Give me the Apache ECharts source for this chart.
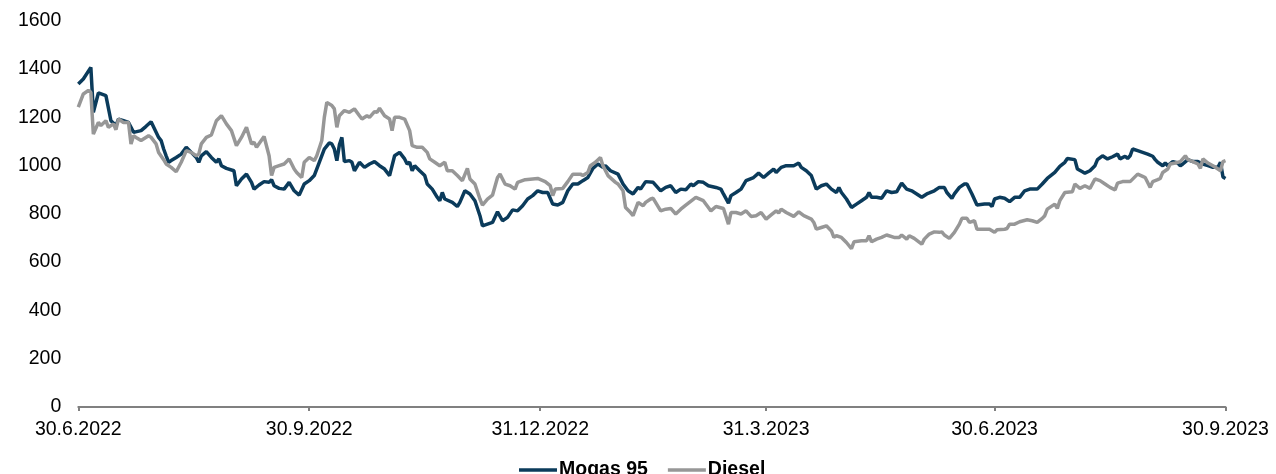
<!DOCTYPE html>
<html>
<head>
<meta charset="utf-8">
<script src="https://cdn.jsdelivr.net/npm/echarts@6/dist/echarts.min.js"></script>
<style>
html,body{margin:0;padding:0;background:#fff;}
#chart{width:1276px;height:474px;}
</style>
</head>
<body>
<div id="chart"></div>
<script>
// Days since 30.6.2022
const tickDays = [0, 92, 184, 274, 365, 457];
const tickLabels = ['30.6.2022', '30.9.2022', '31.12.2022', '31.3.2023', '30.6.2023', '30.9.2023'];
const yTicks = [0, 200, 400, 600, 800, 1000, 1200, 1400, 1600];
const seriesNames = ['Mogas 95', 'Diesel'];

const mogasDay = [0,2,5,6,8,11,13,15,16,18,20,21,22,25,27,29,32,33,34,35,36,37,39,41,43,45,47,48,49,51,53,55,56,57,59,62,63,65,67,69,70,72,74,76,77,78,80,82,84,86,88,90,92,94,96,98,100,101,102,103,104,105,106,108,109,110,112,114,116,118,120,122,124,126,128,130,131,132,133,134,136,138,139,141,143,144,145,146,149,151,152,154,156,158,160,161,163,165,167,169,171,173,175,177,179,181,183,185,187,189,191,193,195,197,199,201,203,205,207,209,210,212,215,217,219,221,223,224,226,229,232,234,236,238,240,242,244,245,247,249,251,254,256,257,259,260,262,264,266,269,271,273,275,277,278,280,282,285,287,288,290,292,294,296,298,300,302,303,304,306,308,310,312,314,315,316,318,320,322,324,326,327,328,330,332,334,336,338,339,341,343,345,346,348,349,351,353,354,356,358,361,363,364,365,367,369,371,373,375,377,379,382,384,386,389,391,393,394,397,398,400,401,403,405,406,408,410,412,414,415,417,418,419,420,422,424,426,428,429,430,432,433,434,436,438,439,440,442,444,446,448,450,452,454,455,456,457];
const mogasValue = [1337,1358,1406,1220,1300,1289,1185,1165,1192,1185,1178,1158,1137,1144,1162,1181,1116,1103,1068,1040,1013,1020,1033,1047,1075,1054,1033,1013,1040,1057,1033,1013,1027,999,988,978,916,944,964,930,902,919,933,930,941,916,905,902,930,895,877,923,937,958,1013,1068,1093,1089,1068,1020,1085,1116,1016,1020,1013,978,1013,992,1006,1016,999,985,958,1040,1054,1027,1006,1013,978,999,978,958,923,902,868,854,888,861,847,830,847,895,882,854,792,750,757,764,808,771,785,816,812,833,861,875,895,888,888,840,836,847,895,923,923,937,950,988,1006,992,999,978,964,923,895,882,909,902,933,930,895,909,916,888,902,899,923,916,933,930,916,909,902,882,844,875,888,902,937,950,968,950,968,985,971,992,999,999,1010,992,978,958,902,916,923,902,888,909,888,861,826,840,854,868,888,868,868,864,895,888,891,909,927,902,895,882,868,882,886,895,909,909,888,864,882,909,923,923,882,836,840,840,830,861,868,864,850,868,868,895,902,902,923,946,971,996,1013,1029,1024,985,974,968,978,999,1024,1040,1027,1036,1047,1027,1038,1029,1040,1068,1061,1054,1047,1038,1024,1013,999,1010,999,1016,1010,999,1006,1024,1016,1016,1006,999,992,992,1013,952,946];

const dieselDay = [0,2,4,5,6,8,9,11,12,14,15,16,18,20,21,22,23,25,28,29,31,32,34,35,37,39,41,43,45,47,48,49,51,53,55,57,59,61,63,65,67,69,70,71,74,76,77,78,80,82,84,86,87,89,90,92,94,95,97,98,99,101,102,103,104,106,108,110,112,113,115,116,118,119,120,122,124,125,126,128,130,132,133,135,137,139,140,142,144,146,147,149,151,153,155,156,158,160,161,163,165,167,168,170,172,174,175,178,181,183,186,188,189,190,193,195,197,200,201,203,204,206,208,209,211,214,215,217,218,220,221,223,225,226,228,229,232,234,236,238,240,242,246,249,251,252,254,257,259,260,262,264,266,268,270,272,274,276,278,279,280,282,285,287,289,292,293,294,296,298,300,301,302,304,306,308,309,312,314,315,316,318,320,322,325,327,328,330,331,333,336,337,339,341,343,344,345,347,349,351,352,354,355,357,358,361,363,365,366,369,370,371,373,375,378,380,382,384,385,386,389,390,391,393,396,397,399,401,403,405,407,409,411,413,414,416,419,422,424,425,427,428,430,431,432,434,435,437,439,441,442,444,446,447,448,450,452,454,455,456,457];
const dieselValue = [1241,1296,1310,1303,1130,1178,1165,1185,1158,1172,1148,1192,1178,1178,1089,1123,1116,1103,1123,1116,1089,1054,1024,1006,992,974,1013,1061,1054,1040,1047,1089,1116,1126,1185,1206,1172,1144,1082,1116,1158,1089,1096,1075,1120,1040,958,992,999,1006,1027,985,971,950,1013,1033,1020,1040,1103,1199,1261,1248,1234,1158,1206,1227,1220,1234,1206,1192,1206,1199,1223,1220,1237,1206,1192,1144,1199,1199,1192,1144,1082,1075,1075,1054,1027,1013,999,1013,978,978,958,937,988,944,923,861,836,861,877,950,964,923,916,902,930,941,944,946,933,916,875,902,905,933,964,964,958,971,999,1013,1033,999,958,930,923,895,826,805,792,847,833,847,861,864,812,819,822,799,819,836,868,854,826,812,830,822,757,805,805,799,812,789,792,805,778,795,812,803,819,805,789,808,792,778,764,736,743,750,729,702,709,702,681,656,684,688,688,709,684,695,702,712,702,702,712,695,709,698,674,695,716,725,723,725,712,698,723,757,781,781,764,771,736,736,736,723,734,736,739,757,757,767,775,771,764,781,792,819,840,822,854,888,891,923,905,916,905,944,937,923,909,899,927,933,933,964,955,950,909,933,941,946,971,985,1006,1010,1016,1040,1024,1016,1006,988,1027,1010,999,985,978,1016,1020];

function pairs(days, vals) { return days.map((d, i) => [d, vals[i]]); }

const chart = echarts.init(document.getElementById('chart'), null, {renderer: 'canvas'});
const FONT = '"Liberation Sans", Arial, sans-serif';
chart.setOption({
  animation: false,
  backgroundColor: '#ffffff',
  grid: {left: 78.3, right: 50.5, top: 20.5, bottom: 67, containLabel: false},
  legend: {
    data: seriesNames,
    left: 514,
    top: 455,
    itemWidth: 38,
    itemHeight: 3.5,
    itemGap: 20,
    icon: 'rect',
    textStyle: {fontFamily: FONT, fontSize: 19.5, fontWeight: 'bold', color: '#000', padding: [0, 0, 0, -3]}
  },
  xAxis: {
    type: 'value',
    min: tickDays[0],
    max: tickDays[tickDays.length - 1],
    splitLine: {show: false},
    axisLine: {show: true, onZero: false, lineStyle: {color: '#808080', width: 2}},
    axisTick: {show: true, length: 4, customValues: tickDays, lineStyle: {color: '#808080', width: 2}},
    axisLabel: {
      customValues: tickDays,
      margin: 13,
      fontFamily: FONT, fontSize: 19.5, color: '#000',
      formatter: function (v) { const i = tickDays.indexOf(Math.round(v)); return i >= 0 ? tickLabels[i] : ''; }
    }
  },
  yAxis: {
    type: 'value',
    min: yTicks[0],
    max: yTicks[yTicks.length - 1],
    interval: yTicks[1] - yTicks[0],
    splitLine: {show: false},
    axisLine: {show: false},
    axisTick: {show: false},
    axisLabel: {margin: 17, fontFamily: FONT, fontSize: 19.5, color: '#000',
      formatter: function (v) { return String(v); }}
  },
  series: [
    {
      name: seriesNames[0], type: 'line', data: pairs(mogasDay, mogasValue),
      showSymbol: false, symbol: 'none', smooth: false,
      lineStyle: {color: '#0b3b5b', width: 3.5}, itemStyle: {color: '#0b3b5b'}
    },
    {
      name: seriesNames[1], type: 'line', data: pairs(dieselDay, dieselValue),
      showSymbol: false, symbol: 'none', smooth: false,
      lineStyle: {color: '#979797', width: 3.5}, itemStyle: {color: '#979797'}
    }
  ]
});
</script>
</body>
</html>
